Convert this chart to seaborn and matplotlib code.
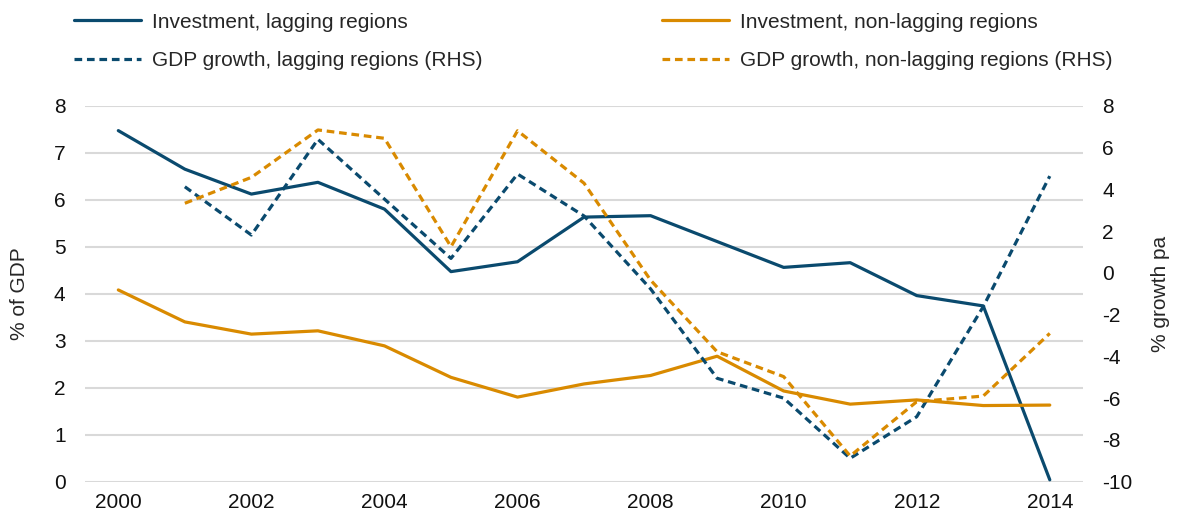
import numpy as np
import pandas as pd
import matplotlib
matplotlib.use("Agg")
import matplotlib.pyplot as plt
import seaborn as sns

years = list(range(2000, 2015))
inv_lag = [7.47, 6.65, 6.12, 6.37, 5.80, 4.47, 4.68, 5.63, 5.66, 5.11, 4.56, 4.66, 3.96, 3.74, 0.04]
inv_non = [4.08, 3.40, 3.14, 3.21, 2.89, 2.22, 1.80, 2.08, 2.26, 2.67, 1.93, 1.65, 1.74, 1.62, 1.63]
gdp_years = list(range(2001, 2015))
gdp_lag = [4.12, 1.81, 6.39, 3.53, 0.69, 4.73, 2.72, -0.77, -5.05, -6.0, -8.88, -6.89, -1.62, 4.63]
gdp_non = [3.33, 4.57, 6.84, 6.44, 1.25, 6.80, 4.29, -0.35, -3.78, -4.97, -8.77, -6.17, -5.9, -2.9]

navy = "#0a4a6e"
orange = "#d98a00"

sns.set_style("white")
plt.rcParams["font.family"] = ["Liberation Sans", "DejaVu Sans"]
plt.rcParams["axes.unicode_minus"] = False

fig = plt.figure(figsize=(11.78, 5.19), dpi=100)
ax = fig.add_axes([0.0722, 0.0719, 0.8472, 0.7244])
ax2 = ax.twinx()

lw = 2.3
dash = (0, (2.4, 1.5))
sns.lineplot(x=years, y=inv_lag, ax=ax, color=navy, lw=lw, label="Investment, lagging regions", legend=False)
sns.lineplot(x=years, y=inv_non, ax=ax, color=orange, lw=lw, label="Investment, non-lagging regions", legend=False)
sns.lineplot(x=gdp_years, y=gdp_lag, ax=ax2, color=navy, lw=lw, label="GDP growth, lagging regions (RHS)", legend=False)
sns.lineplot(x=gdp_years, y=gdp_non, ax=ax2, color=orange, lw=lw, label="GDP growth, non-lagging regions (RHS)", legend=False)
for l in ax2.get_lines():
    l.set_linestyle(dash)

ax.set_xlim(1999.5, 2014.5)
ax.set_ylim(0, 8)
ax2.set_ylim(-10, 8)
ax.set_yticks(range(0, 9))
ax2.set_yticks(range(-10, 9, 2))
ax.set_xticks(range(2000, 2015, 2))
ax.grid(axis="y", color="#d9d9d9", lw=1.5)
ax.set_axisbelow(True)
for a in (ax, ax2):
    for s in a.spines.values():
        s.set_visible(False)
    a.tick_params(length=0, labelsize=15, colors="#111111")
ax.tick_params(axis="y", pad=14)
ax2.tick_params(axis="y", pad=14)
ax.tick_params(axis="x", pad=8)
ax.set_ylabel("% of GDP", fontsize=15, labelpad=18)
ax2.set_ylabel("% growth pa", fontsize=15, labelpad=13)

h1, l1 = ax.get_legend_handles_labels()
h2, l2 = ax2.get_legend_handles_labels()
handles = [h1[0], h2[0], h1[1], h2[1]]
labels = [l1[0], l2[0], l1[1], l2[1]]
fig.legend(handles, labels, ncol=2, loc="upper left", bbox_to_anchor=(0.047, 1.012),
           frameon=False, fontsize=15, handlelength=3.2, columnspacing=8.6,
           labelspacing=0.95, handletextpad=0.55)

fig.savefig("out.png", dpi=100)
